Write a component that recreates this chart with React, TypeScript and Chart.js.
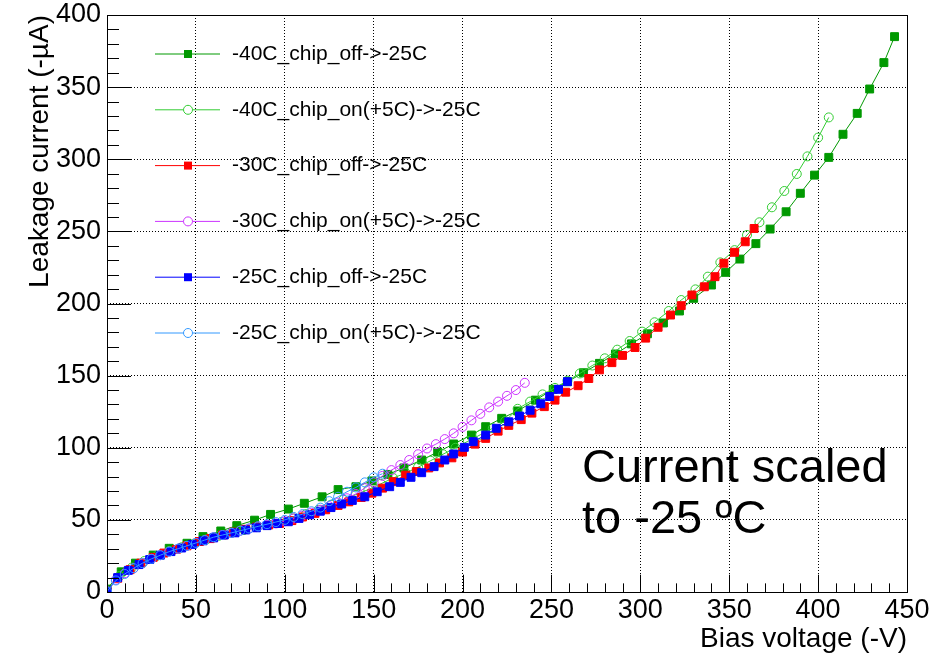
import React, { useEffect, useRef } from "react";
import { Chart, registerables } from "chart.js";

Chart.register(...registerables);

// ---------------- data ----------------
const seriesLabels = [
  "-40C_chip_off->-25C",
  "-40C_chip_on(+5C)->-25C",
  "-30C_chip_off->-25C",
  "-30C_chip_on(+5C)->-25C",
  "-25C_chip_off->-25C",
  "-25C_chip_on(+5C)->-25C",
];

const v40off = [0, 8, 16, 26, 35, 45, 54, 64, 73, 83, 92, 102, 111, 121, 130, 140, 149, 158, 167, 177, 186, 195, 205, 213, 222, 231, 241, 251, 259, 268, 277, 286, 295, 304, 313, 322, 330, 340, 348, 356, 365, 373, 382, 390, 398, 406, 414, 422, 429, 437, 443];
const i40off = [2, 14, 20, 25.6, 30.3, 33.8, 38.4, 42.3, 46, 49.8, 53.8, 57.5, 61.5, 66, 71, 73, 77, 81.5, 86, 91.5, 97, 102.6, 108.8, 114.6, 120.4, 125.5, 133, 140.5, 145.8, 152, 158.5, 165, 172, 179, 186.5, 194.8, 203.6, 212.8, 221.6, 230.8, 241.5, 251.6, 263.6, 276.4, 289, 301.3, 317.3, 331.8, 348.7, 367, 385];

const v40on = [0, 7, 14, 21, 28, 35, 42, 49, 56, 63, 70, 77, 84, 91, 98, 105, 112, 119, 126, 133, 140, 147, 154, 161, 168, 175, 182, 189, 196, 203, 210, 217, 224, 231, 238, 245, 252, 259, 266, 273, 280, 287, 294, 301, 308, 316, 323, 331, 338, 345, 353, 360, 367, 374, 381, 388, 394, 400, 406];
const i40on = [1, 11, 17, 21.5, 25, 28.5, 31, 33.5, 36.5, 39, 41, 43, 45, 46.5, 48.5, 51, 54, 57, 60.5, 64, 67.5, 71, 75, 79, 82.5, 86.5, 91, 95.5, 100, 104.5, 109, 113.5, 118.5, 127, 132, 137, 141.5, 146.5, 151.5, 157, 162, 168, 174, 180.5, 187, 194.8, 202.4, 209.8, 218.6, 228.5, 237, 247.5, 256.3, 266.7, 278, 289.8, 302, 315, 329];

const v30off = [0, 6, 13, 19, 26, 32, 39, 45, 52, 58, 65, 71, 78, 84, 91, 97, 104, 110, 117, 123, 130, 136, 143, 149, 155, 161, 168, 174, 181, 187, 194, 200, 207, 213, 220, 226, 233, 239, 246, 252, 258, 265, 271, 277, 284, 290, 297, 303, 310, 317, 323, 329, 336, 342, 347, 353, 359, 364];
const i30off = [0.5, 9.5, 15.5, 20, 24, 27, 29.5, 32, 35, 37, 39.5, 41.5, 43.5, 45, 46.5, 47.5, 49.5, 52, 54.5, 57, 60, 62.5, 65.5, 68.5, 72, 76.5, 81, 83.5, 86, 89.5, 93, 97, 102.5, 106.5, 111.5, 115.5, 119.5, 124, 128.5, 133, 138.5, 143, 148, 154, 159, 164, 169.5, 176, 183.5, 192, 198.5, 205.9, 211.6, 218.6, 227.9, 235.5, 242.8, 252];

const v30on = [0, 5, 10, 15, 20, 25, 30, 35, 40, 45, 50, 55, 60, 65, 70, 75, 80, 85, 90, 95, 100, 105, 110, 115, 120, 125, 130, 135, 140, 145, 150, 155, 160, 165, 170, 175, 180, 185, 190, 195, 200, 205, 210, 215, 220, 225, 230, 235];
const i30on = [0.5, 8.5, 13, 16.5, 20, 23, 25.5, 28, 30, 32, 34, 36, 38, 39.5, 41, 42.5, 44, 45.5, 46.5, 47.5, 49, 51, 53, 55, 57, 59.5, 62, 65, 68, 72, 76, 80.5, 84.5, 88, 91.5, 95.5, 99.5, 102.5, 106, 110, 114.5, 119, 123.5, 128, 132, 136, 140, 145];

const v25off = [0, 6, 12, 18, 24, 30, 36, 42, 48, 54, 60, 66, 72, 78, 84, 90, 96, 102, 108, 114, 120, 126, 132, 138, 145, 152, 159, 165, 171, 177, 184, 190, 195, 201, 206, 213, 219, 226, 232, 238, 244, 249, 254, 259];
const i25off = [0.5, 10, 15, 19, 22.5, 25.5, 28, 30.5, 33, 35.5, 37.5, 39.5, 41, 43, 44.5, 46, 47.5, 48.7, 51, 53.5, 56, 58.5, 61, 63.5, 66, 69.5, 73, 76, 79.5, 82.7, 86.9, 91.5, 95.7, 100.3, 104.2, 108.8, 113.5, 118, 122, 126, 130.5, 135.5, 140.5, 145.8];

const v25on = [0, 5, 10, 15, 20, 25, 30, 35, 40, 45, 50, 55, 60, 65, 70, 75, 80, 85, 90, 95, 100, 105, 110, 115, 120, 125, 130, 135, 140, 145, 150, 155];
const i25on = [0.3, 8, 12.5, 16.5, 20, 23, 25.5, 28, 30, 32, 34, 36, 38, 39.5, 41, 42.5, 44, 45.5, 47, 48.5, 50, 52, 54, 56, 58.5, 63, 66, 69.5, 72.5, 76, 79.5, 82];

const xMinorTicks = [0, 10, 20, 30, 40, 50, 60, 70, 80, 90, 100, 110, 120, 130, 140, 150, 160, 170, 180, 190, 200, 210, 220, 230, 240, 250, 260, 270, 280, 290, 300, 310, 320, 330, 340, 350, 360, 370, 380, 390, 400, 410, 420, 430, 440, 450];
const yMinorTicks = [0, 10, 20, 30, 40, 50, 60, 70, 80, 90, 100, 110, 120, 130, 140, 150, 160, 170, 180, 190, 200, 210, 220, 230, 240, 250, 260, 270, 280, 290, 300, 310, 320, 330, 340, 350, 360, 370, 380, 390, 400];

const seriesColors = ["#009900", "#33cc33", "#ff0000", "#cc33ff", "#0000ff", "#3399ff"];
const seriesFilled = [true, false, true, false, true, false];
const seriesV = [v40off, v40on, v30off, v30on, v25off, v25on];
const seriesI = [i40off, i40on, i30off, i30on, i25off, i25on];

const annotationLines = ["Current scaled", "to -25 \u00baC"];
const xTitle = "Bias voltage (-V)";
const yTitle = "Leakage current (-\u00b5A)";

const FONT = "'Liberation Sans', Arial, Helvetica, sans-serif";

// ---------------- plugin: ROOT-like frame, ticks, legend, annotation ----------------
const rootStylePlugin = {
  id: "rootStyle",
  afterDraw(chart: any) {
    const ctx: CanvasRenderingContext2D = chart.ctx;
    const area = chart.chartArea;
    const left = area.left, right = area.right, top = area.top, bottom = area.bottom;
    const xs = chart.scales.x;
    const ys = chart.scales.y;
    ctx.save();
    ctx.setLineDash([]);
    ctx.strokeStyle = "#000";
    ctx.lineWidth = 1;
    const h = bottom - top;
    const w = right - left;
    // ticks inside the frame, on the bottom and left axes
    for (const v of xMinorTicks) {
      const px = Math.round(xs.getPixelForValue(v)) + 0.5;
      const len = v % 50 === 0 ? 0.03 * h : 0.015 * h;
      ctx.beginPath();
      ctx.moveTo(px, bottom);
      ctx.lineTo(px, bottom - len);
      ctx.stroke();
    }
    for (const v of yMinorTicks) {
      const py = Math.round(ys.getPixelForValue(v)) + 0.5;
      const len = v % 50 === 0 ? 0.03 * w : 0.015 * w;
      ctx.beginPath();
      ctx.moveTo(left, py);
      ctx.lineTo(left + len, py);
      ctx.stroke();
    }
    // frame
    ctx.strokeRect(Math.round(left) + 0.5, Math.round(top) + 0.5, Math.round(right - left), Math.round(bottom - top));

    // legend
    const ds = chart.data.datasets;
    const lx0 = left + 48;
    const lx1 = left + 113;
    const mx = left + 81;
    ctx.font = `21px ${FONT}`;
    ctx.textBaseline = "middle";
    ctx.textAlign = "left";
    for (let i = 0; i < ds.length; i++) {
      const y = top + 39 + i * 55.8;
      const c = ds[i].borderColor;
      ctx.strokeStyle = c;
      ctx.lineWidth = 1;
      ctx.beginPath();
      ctx.moveTo(lx0, y);
      ctx.lineTo(lx1, y);
      ctx.stroke();
      if (seriesFilled[i]) {
        ctx.fillStyle = c;
        ctx.fillRect(mx - 4, y - 4, 8, 8);
      } else {
        ctx.fillStyle = "#fff";
        ctx.beginPath();
        ctx.arc(mx, y, 4.5, 0, Math.PI * 2);
        ctx.fill();
        ctx.stroke();
      }
      ctx.fillStyle = "#000";
      ctx.fillText(ds[i].label, left + 125, y);
    }

    // annotation
    ctx.font = `47px ${FONT}`;
    ctx.textBaseline = "alphabetic";
    ctx.fillStyle = "#000";
    ctx.fillText(annotationLines[0], left + 475, top + 467);
    ctx.fillText(annotationLines[1], left + 475, top + 518);
    ctx.restore();
  },
};

export default function App() {
  const ref = useRef<HTMLCanvasElement>(null);
  useEffect(() => {
    const canvas = ref.current;
    if (!canvas) return;
    const datasets = seriesLabels.map((label, i) => ({
      label,
      data: seriesV[i].map((v, k) => ({ x: v, y: seriesI[i][k] })),
      showLine: true,
      borderColor: seriesColors[i],
      backgroundColor: seriesColors[i],
      borderWidth: 1,
      pointStyle: seriesFilled[i] ? "rect" : "circle",
      pointRadius: seriesFilled[i] ? 5.6 : 4.5,
      pointBorderWidth: 1,
      pointBorderColor: seriesColors[i],
      pointBackgroundColor: seriesFilled[i] ? seriesColors[i] : "rgba(0,0,0,0)",
      order: 5 - i,
    }));
    const tickFont = { family: FONT, size: 27 };
    const titleFont = { family: FONT, size: 28 };
    const chart = new Chart(canvas, {
      type: "scatter",
      data: { datasets },
      options: {
        responsive: false,
        animation: false,
        events: [],
        layout: { padding: { top: 15, right: 33, left: 0, bottom: 0 } },
        plugins: { legend: { display: false }, tooltip: { enabled: false } },
        scales: {
          x: {
            type: "linear",
            min: 0,
            max: 450,
            afterFit: (s: any) => {
              s.height = 66;
              s.paddingLeft = 0;
              s.paddingRight = 0;
            },
            ticks: { stepSize: 50, font: tickFont, color: "#000", padding: 2, maxRotation: 0, autoSkip: false },
            grid: { color: "#000", lineWidth: 1, drawTicks: false },
            border: { display: false, dash: [1, 2] },
            title: { display: true, text: xTitle, align: "end", font: titleFont, color: "#000", padding: { top: 0, bottom: 2 } },
          },
          y: {
            type: "linear",
            min: 0,
            max: 400,
            afterFit: (s: any) => {
              s.width = 107;
              s.paddingTop = 0;
              s.paddingBottom = 0;
            },
            ticks: { stepSize: 50, font: tickFont, color: "#000", padding: 6, autoSkip: false },
            grid: { color: "#000", lineWidth: 1, drawTicks: false },
            border: { display: false, dash: [1, 2] },
            title: { display: true, text: yTitle, align: "end", font: titleFont, color: "#000", padding: { top: 23, bottom: 0 } },
          },
        },
      } as any,
      plugins: [rootStylePlugin],
    });
    return () => chart.destroy();
  }, []);
  return (
    <div style={{ position: "fixed", left: 0, top: 0, width: 940, height: 658, background: "#fff" }}>
      <canvas ref={ref} width={940} height={658} style={{ display: "block", width: 940, height: 658 }} />
    </div>
  );
}
